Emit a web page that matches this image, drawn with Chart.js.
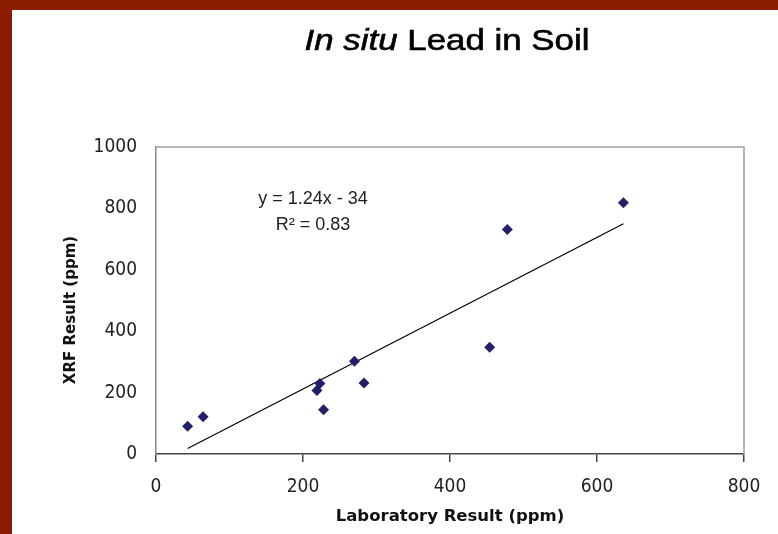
<!DOCTYPE html>
<html>
<head>
<meta charset="utf-8">
<script src="https://cdn.jsdelivr.net/npm/chart.js@4.4.1/dist/chart.umd.min.js"></script>
<style>
  html, body { margin: 0; padding: 0; background: #fff; }
  canvas { display: block; }
</style>
</head>
<body>
<canvas id="chart" width="778" height="534"></canvas>
<script>
// laboratory result (ppm) vs XRF result (ppm)
const labResult = [43, 64, 223, 219, 228, 270, 283, 454, 478, 636];
const xrfResult = [90, 121, 230, 207, 144, 302, 231, 348, 731, 818];
// fitted trendline end points as drawn
const trendLab = [43, 636];
const trendXrf = [18, 750];
const xTicks = [0, 200, 400, 600, 800];
const yTicks = [0, 200, 400, 600, 800, 1000];

const titleItalic = "In situ";
const titleRest = " Lead in Soil";
const eqText = "y = 1.24x - 34";
const r2Text = "R² = 0.83";
const xTitle = "Laboratory Result (ppm)";
const yTitle = "XRF Result (ppm)";

const tickFont = "'Liberation Sans Narrow', 'DejaVu Sans Condensed', Arial, sans-serif";

const frame = {
  id: "frame",
  beforeDraw(chart) {
    const ctx = chart.ctx;
    ctx.save();
    ctx.fillStyle = "#fff";
    ctx.fillRect(0, 0, chart.width, chart.height);
    ctx.fillStyle = "#8b1c02";
    ctx.fillRect(0, 0, 12, chart.height);
    ctx.fillRect(0, 0, chart.width, 10);
    ctx.restore();
  },
  beforeDatasetsDraw(chart) {
    const ctx = chart.ctx;
    const a = chart.chartArea;
    ctx.save();
    ctx.strokeStyle = "#a0a0a0";
    ctx.lineWidth = 1.5;
    ctx.beginPath();
    ctx.moveTo(a.left, a.top);
    ctx.lineTo(a.right, a.top);
    ctx.lineTo(a.right, a.bottom);
    ctx.stroke();
    ctx.restore();
  },
  afterDraw(chart) {
    const ctx = chart.ctx;
    const a = chart.chartArea;
    ctx.save();
    // title, mixed italic / regular
    const fItal = "italic 29px 'Liberation Sans', Arial, sans-serif";
    const fReg = "29px 'Liberation Sans', Arial, sans-serif";
    ctx.font = fItal;
    const w1 = ctx.measureText(titleItalic).width;
    ctx.font = fReg;
    const w2 = ctx.measureText(titleRest).width;
    const target = 285;
    const sx = target / (w1 + w2);
    ctx.translate(447 - target / 2, 50);
    ctx.scale(sx, 1);
    ctx.fillStyle = "#000";
    ctx.strokeStyle = "#000";
    ctx.lineWidth = 0.6;
    ctx.textBaseline = "alphabetic";
    ctx.font = fItal;
    ctx.fillText(titleItalic, 0, 0);
    ctx.strokeText(titleItalic, 0, 0);
    ctx.font = fReg;
    ctx.fillText(titleRest, w1, 0);
    ctx.strokeText(titleRest, w1, 0);
    ctx.restore();

    // y axis title
    ctx.save();
    ctx.translate(71, 310);
    ctx.rotate(-Math.PI / 2);
    ctx.fillStyle = "#111";
    ctx.font = "bold 15px 'DejaVu Sans', Verdana, sans-serif";
    ctx.textAlign = "center";
    ctx.textBaseline = "middle";
    ctx.fillText(yTitle, 0, 0);
    ctx.restore();

    // trendline equation
    ctx.save();
    ctx.fillStyle = "#222";
    ctx.font = "18px 'Liberation Sans', Arial, sans-serif";
    ctx.textAlign = "center";
    ctx.textBaseline = "middle";
    ctx.fillText(eqText, a.left + 157, 199);
    ctx.fillText(r2Text, a.left + 157, 225);
    ctx.restore();
  }
};

new Chart(document.getElementById("chart"), {
  type: "scatter",
  data: {
    datasets: [
      {
        label: "XRF",
        data: labResult.map((x, i) => ({ x, y: xrfResult[i] })),
        pointStyle: "rectRot",
        pointRadius: 5.5,
        pointBorderWidth: 0,
        backgroundColor: "#22206b",
        borderColor: "#22206b"
      },
      {
        label: "Trend",
        type: "line",
        data: trendLab.map((x, i) => ({ x, y: trendXrf[i] })),
        borderColor: "#000",
        borderWidth: 1.2,
        pointRadius: 0,
        fill: false
      }
    ]
  },
  options: {
    responsive: false,
    animation: false,
    devicePixelRatio: 1,
    layout: { padding: { left: 56, right: 34, top: 147, bottom: 0 } },
    plugins: {
      legend: { display: false },
      tooltip: { enabled: false },
      title: { display: false }
    },
    scales: {
      x: {
        type: "linear",
        min: 0,
        max: 800,
        afterBuildTicks: s => { s.ticks = xTicks.map(v => ({ value: v })); },
        afterFit: s => { s.height = 80; },
        grid: { drawOnChartArea: false, drawTicks: true, tickLength: 8, color: "#444", lineWidth: 1.5 },
        border: { color: "#444", width: 1.5 },
        ticks: {
          color: "#222", padding: 14, maxRotation: 0,
          callback: v => String(v),
          font: { family: tickFont, size: 19 }
        },
        title: {
          display: true,
          text: xTitle,
          color: "#111",
          padding: { top: 0, bottom: 7 },
          font: { family: "'DejaVu Sans', Verdana, sans-serif", size: 16.5, weight: "bold" }
        }
      },
      y: {
        type: "linear",
        min: 0,
        max: 1000,
        afterBuildTicks: s => { s.ticks = yTicks.map(v => ({ value: v })); },
        afterFit: s => { s.width = 100; },
        grid: { drawOnChartArea: false, drawTicks: false },
        border: { color: "#8a8a8a", width: 1.5 },
        ticks: {
          color: "#222", padding: 19,
          callback: v => String(v),
          font: { family: tickFont, size: 19 }
        },
        title: { display: false }
      }
    }
  },
  plugins: [frame]
});
</script>
</body>
</html>
